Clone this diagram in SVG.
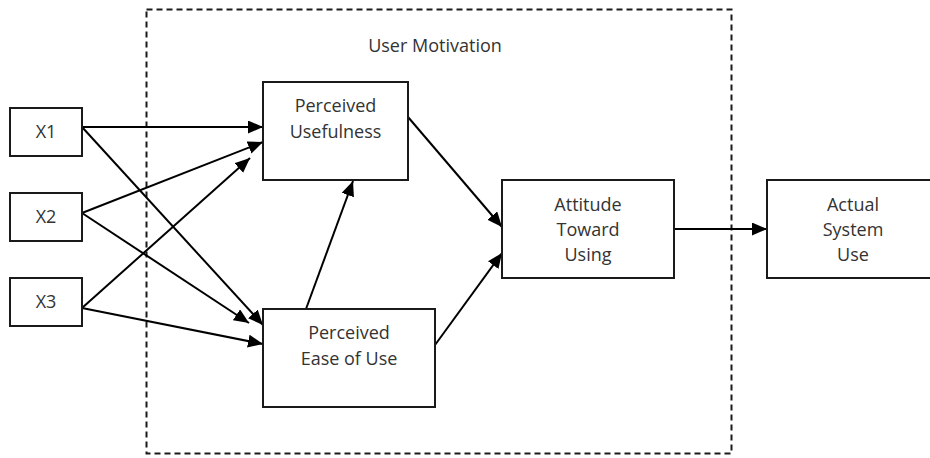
<svg xmlns="http://www.w3.org/2000/svg" width="930" height="458" viewBox="0 0 930 458">
<style>
.box{fill:#fff;stroke:#1a1a1a;stroke-width:2}
.lbl{font-family:"Open Sans","Liberation Sans",sans-serif;font-size:18px;fill:#333;text-anchor:middle}
.con{stroke:#000;stroke-width:2;fill:none;marker-end:url(#ah)}
</style>
<defs>
<marker id="ah" markerUnits="userSpaceOnUse" markerWidth="16" markerHeight="14" refX="15" refY="6.5" orient="auto">
<path d="M0,0 L15,6.5 L0,13 z" fill="#000"/>
</marker>
</defs>
<rect width="930" height="458" fill="#fff"/>
<g id="user-motivation">
<rect x="146.5" y="9.5" width="585" height="444" fill="none" stroke="#1a1a1a" stroke-width="2" stroke-dasharray="6 4"/>
<text class="lbl" x="435" y="52">User Motivation</text>
</g>
<g id="connectors">
<line class="con" x1="82" y1="127" x2="263" y2="127"/>
<line class="con" x1="82" y1="127" x2="263" y2="325"/>
<line class="con" x1="82" y1="213" x2="263" y2="142"/>
<line class="con" x1="82" y1="213" x2="249" y2="323"/>
<line class="con" x1="82" y1="308" x2="250" y2="158"/>
<line class="con" x1="82" y1="308" x2="263" y2="344"/>
<line class="con" x1="306" y1="309" x2="353" y2="181"/>
<line class="con" x1="408" y1="117" x2="502" y2="227"/>
<line class="con" x1="435" y1="345" x2="502" y2="253"/>
<line class="con" x1="674" y1="229" x2="767" y2="229"/>
</g>
<g id="x1">
<rect class="box" x="10" y="108" width="72" height="48"/>
<text class="lbl" x="46" y="138">X1</text>
</g>
<g id="x2">
<rect class="box" x="10" y="193" width="72" height="48"/>
<text class="lbl" x="46" y="223">X2</text>
</g>
<g id="x3">
<rect class="box" x="10" y="278" width="72" height="48"/>
<text class="lbl" x="46" y="308">X3</text>
</g>
<g id="perceived-usefulness">
<rect class="box" x="263" y="82" width="145" height="98"/>
<text class="lbl" x="335.5" y="112">Perceived</text>
<text class="lbl" x="335.5" y="138">Usefulness</text>
</g>
<g id="perceived-ease-of-use">
<rect class="box" x="263" y="309" width="172" height="98"/>
<text class="lbl" x="349" y="339">Perceived</text>
<text class="lbl" x="349" y="365">Ease of Use</text>
</g>
<g id="attitude-toward-using">
<rect class="box" x="502" y="180" width="172" height="98"/>
<text class="lbl" x="588" y="211">Attitude</text>
<text class="lbl" x="588" y="236">Toward</text>
<text class="lbl" x="588" y="261">Using</text>
</g>
<g id="actual-system-use">
<rect class="box" x="767" y="180" width="172" height="98"/>
<text class="lbl" x="853" y="211">Actual</text>
<text class="lbl" x="853" y="236">System</text>
<text class="lbl" x="853" y="261">Use</text>
</g>
</svg>
